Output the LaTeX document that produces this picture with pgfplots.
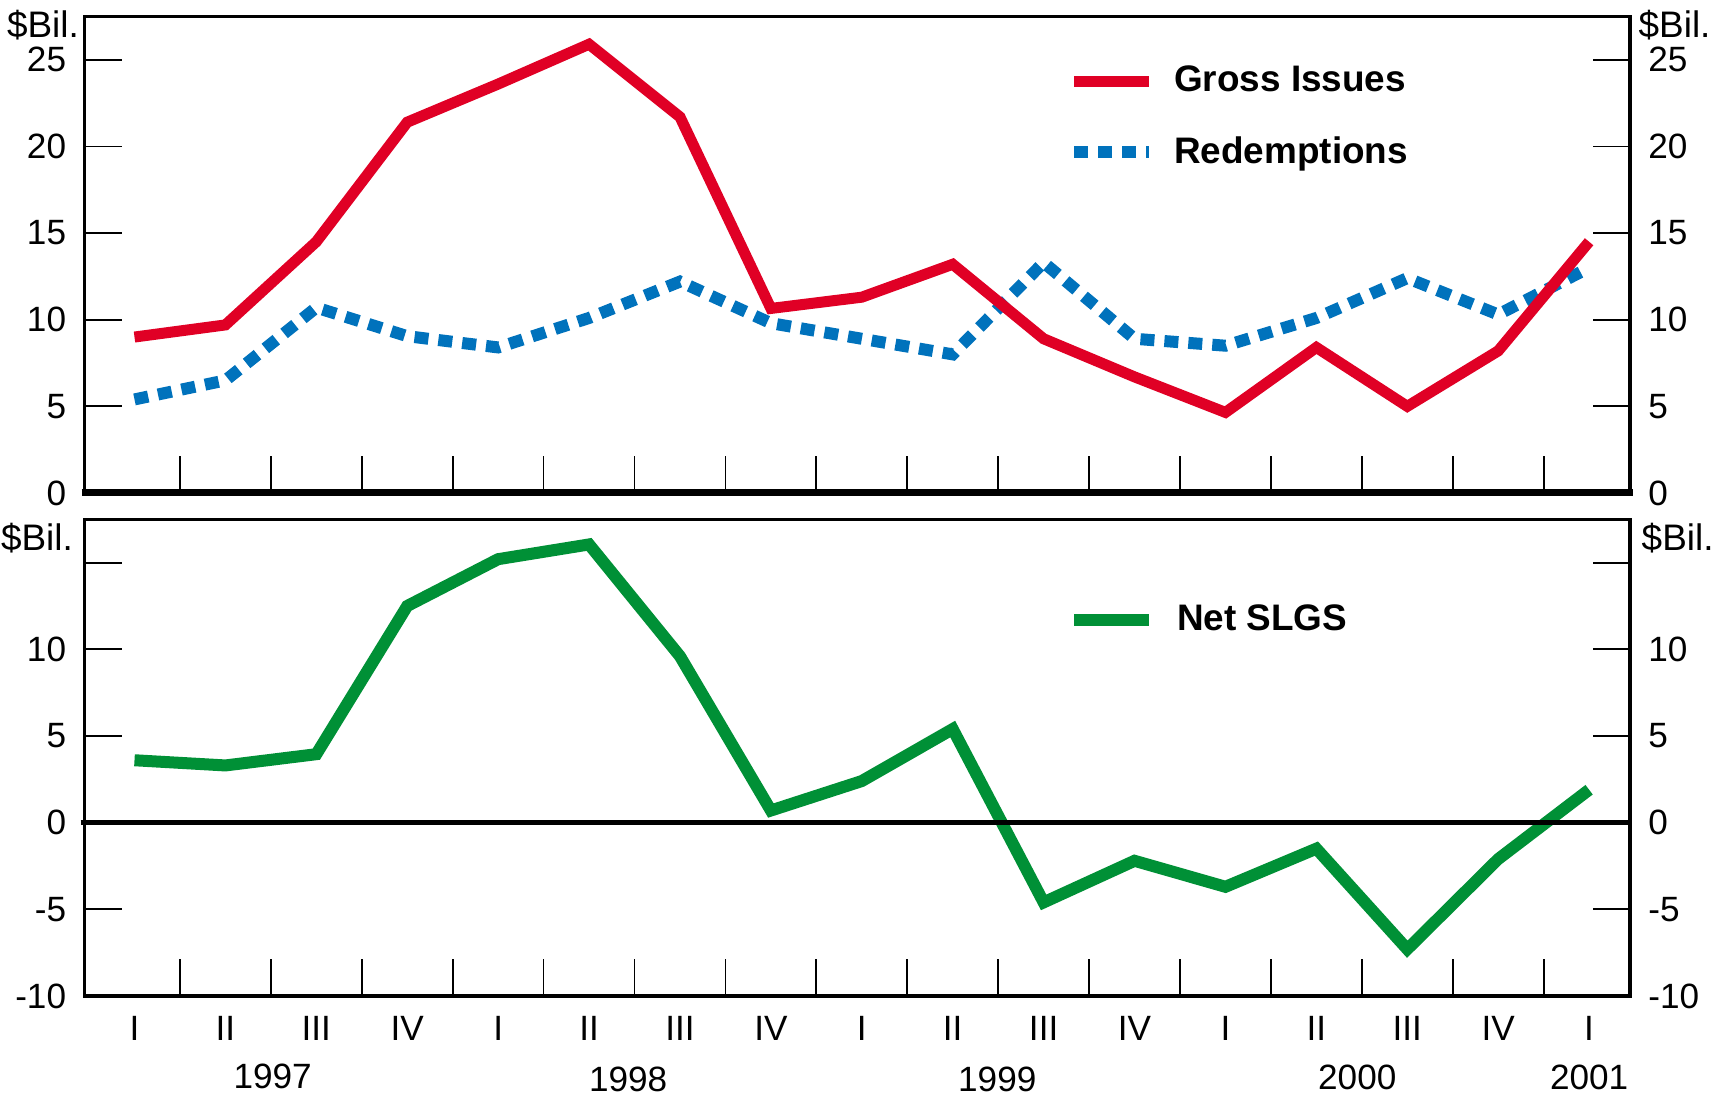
\documentclass[border=0pt]{standalone}
\usepackage{fontspec}
\setmainfont{Liberation Sans}
\usepackage{pgfplots}
\usepackage{pgfplotstable}
\pgfplotsset{compat=1.18}

\definecolor{grossred}{HTML}{E00025}
\definecolor{redblue}{HTML}{0072BC}
\definecolor{netgreen}{HTML}{009036}

% quarters 1997:I ... 2001:I, $ billions
\pgfplotstableread{
q  gross redem net
0  9.0   5.4   3.6
1  9.7   6.5   3.3
2  14.5  10.7  3.95
3  21.4  9.05  12.5
4  23.6  8.4   15.2
5  25.9  10.1  16.05
6  21.7  12.2  9.6
7  10.65 9.8   0.7
8  11.3  8.9   2.4
9  13.2  8.0   5.4
10 8.9   13.3  -4.6
11 6.7   8.9   -2.2
12 4.65  8.5   -3.7
13 8.4   10.1  -1.5
14 5.0   12.4  -7.3
15 8.2   10.3  -2.1
16 14.5  13.0  1.9
}\slgs

\tikzset{yr/.style={font=\fontsize{10}{12}\selectfont},
  bil/.style={font=\fontsize{10.5}{12}\selectfont, inner sep=0pt}}
\pgfplotsset{
  panel/.style={
    scale only axis, width=15.455cm, anchor=south west,
    xmin=-0.55, xmax=16.45, clip mode=individual,
    axis line style={line width=0.35mm},
    tick align=inside, major tick length=3.7mm, minor tick length=3.7mm,
    every tick/.style={black, line width=0.5pt},
    xtick={0,...,16}, major x tick style={draw=none},
    minor xtick={0.5,1.5,...,15.5}, xtick pos=left, ytick pos=both,
    tick label style={font=\fontsize{10}{12}\selectfont},
    yticklabel style={xshift=-0.6mm},
  },
  rightlab/.style={
    scale only axis, width=15.455cm, anchor=south west,
    xmin=-0.55, xmax=16.45, xtick=\empty,
    axis line style={draw=none}, major tick length=0pt,
    ytick pos=right, yticklabel pos=right,
    tick label style={font=\fontsize{10}{12}\selectfont},
    yticklabel style={xshift=0.6mm},
  },
}

\begin{document}
\begin{tikzpicture}
\useasboundingbox (0,0) rectangle (17.27,10.97);

% ---- top panel: gross issues and redemptions
\begin{axis}[panel, at={(0.845cm,6.04cm)}, height=4.765cm,
  ymin=0, ymax=27.5, ytick={0,5,...,25}, yticklabels={0,5,10,15,20,25},
  xticklabels={},
  legend image code/.code={\draw[#1] (0cm,0cm) -- (0.75cm,0cm);},
  legend cell align=left, reverse legend,
  legend style={draw=none, fill=none, at={(rel axis cs:0.636,0.898)},
    anchor=north west, inner sep=0pt, row sep=3.95mm, column sep=1.9mm,
    font=\bfseries\fontsize{10.5}{12}\selectfont, nodes={inner sep=0pt}},
]
\addplot[redblue, line width=1.2mm, dash pattern=on 1.4mm off 1mm] table[x=q, y=redem] {\slgs};
\addplot[grossred, line width=1.1mm] table[x=q, y=gross] {\slgs};
\legend{Redemptions, Gross Issues}
\draw[line width=0.7mm] ([xshift=-0.3mm]rel axis cs:0,0) -- ([xshift=0.3mm]rel axis cs:1,0);
\node[anchor=base east, bil] at ([xshift=-0.5mm, yshift=-2.1mm]rel axis cs:0,1) {\$Bil.};
\node[anchor=base west, bil] at ([xshift=0.8mm, yshift=-2.1mm]rel axis cs:1,1) {\$Bil.};
\end{axis}
\begin{axis}[rightlab, at={(0.845cm,6.04cm)}, height=4.765cm,
  ymin=0, ymax=27.5, ytick={0,5,...,25}, yticklabels={0,5,10,15,20,25}]
\end{axis}

% ---- bottom panel: net SLGS
\begin{axis}[panel, at={(0.845cm,1.01cm)}, height=4.767cm,
  ymin=-10, ymax=17.5, ytick={-10,-5,0,5,10,15}, yticklabels={-10,-5,0,5,10,{}},
  xticklabels={I,II,III,IV,I,II,III,IV,I,II,III,IV,I,II,III,IV,I},
  xticklabel style={anchor=center, yshift=-3.2mm},
  legend image code/.code={\draw[#1] (0cm,0cm) -- (0.75cm,0cm);},
  legend cell align=left,
  legend style={draw=none, fill=none, at={(rel axis cs:0.636,0.822)},
    anchor=north west, inner sep=0pt, column sep=2.2mm,
    font=\bfseries\fontsize{10.5}{12}\selectfont, nodes={inner sep=0pt}},
]
\addplot[netgreen, line width=1.2mm] table[x=q, y=net] {\slgs};
\legend{Net SLGS}
\draw[line width=0.5mm] ([xshift=-0.4mm]axis cs:-0.55,0) -- (axis cs:16.45,0);
\node[anchor=base east, bil] at ([xshift=-1.1mm, yshift=-3.1mm]rel axis cs:0,1) {\$Bil.};
\node[anchor=base west, bil] at ([xshift=1.1mm, yshift=-3.1mm]rel axis cs:1,1) {\$Bil.};
\node[yr] at ([yshift=-8.0mm]axis cs:1.52,-10) {1997};
\node[yr] at ([yshift=-8.3mm]axis cs:5.43,-10) {1998};
\node[yr] at ([yshift=-8.3mm]axis cs:9.49,-10) {1999};
\node[yr] at ([yshift=-8.1mm]axis cs:13.45,-10) {2000};
\node[yr] at ([yshift=-8.1mm]axis cs:16,-10) {2001};
\end{axis}
\begin{axis}[rightlab, at={(0.845cm,1.01cm)}, height=4.767cm,
  ymin=-10, ymax=17.5, ytick={-10,-5,0,5,10}, yticklabels={-10,-5,0,5,10}]
\end{axis}
\end{tikzpicture}
\end{document}
